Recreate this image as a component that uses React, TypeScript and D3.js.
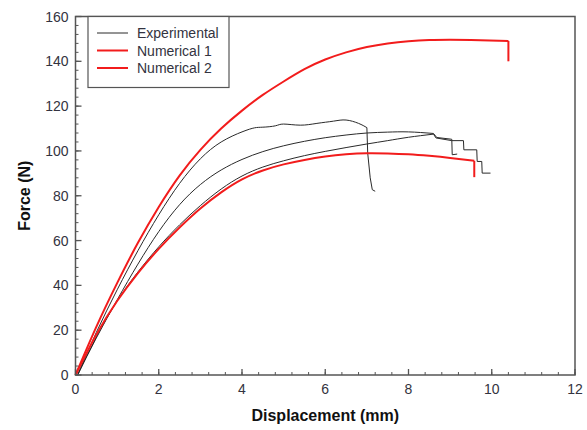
import React from "react";
import * as d3 from "d3";

type Pt = [number, number];

// axis ticks
const xTicks = [0, 2, 4, 6, 8, 10, 12];
const yTicks = [0, 20, 40, 60, 80, 100, 120, 140, 160];
const xMinor = d3.range(0, 12.001, 0.4);
const yMinor = d3.range(0, 160.001, 4);

// force-displacement curves (mm, N)
const numerical1: Pt[] = [
  [0, 0], [0.5, 21.5], [1, 41], [1.5, 59], [2, 75], [2.5, 89], [3, 100.5],
  [3.5, 110], [4, 118], [4.5, 125], [5, 131], [5.5, 136.5], [6, 140.8],
  [6.5, 144], [7, 146.4], [7.5, 148], [8, 149], [8.5, 149.5], [9, 149.6],
  [9.5, 149.5], [10.4, 149.1],
];
const numerical1Drop: Pt[] = [[10.4, 140]];

const numerical2: Pt[] = [
  [0, 0], [0.5, 18], [1, 33], [1.5, 45.5], [2, 56.3], [2.5, 65.8], [3, 74.3],
  [3.5, 81.5], [4, 87.3], [4.5, 91.3], [5, 94], [5.5, 96], [6, 97.5],
  [6.5, 98.5], [7, 99], [7.5, 98.9], [8, 98.5], [8.5, 97.8], [9, 96.9], [9.58, 95.6],
];
const numerical2Drop: Pt[] = [[9.58, 88.3]];

const expA: Pt[] = [
  [0.05, 0], [0.5, 19], [1, 38], [1.5, 55.5], [2, 71.5], [2.5, 85.5], [3, 96.5],
  [3.5, 104], [4, 108.5], [4.3, 110.3], [4.5, 110.6], [4.8, 111.2], [5, 112],
  [5.4, 111.5], [5.8, 112.3], [6.2, 113.3], [6.5, 113.8], [6.8, 112.3], [7, 110.4],
];
const expADrop: Pt[] = [[7.02, 99], [7.08, 88], [7.13, 82.7], [7.2, 82]];

const expB: Pt[] = [
  [0.05, 0], [0.5, 16.5], [1, 33.5], [1.5, 49.5], [2, 64], [2.5, 76], [3, 85],
  [3.5, 91.5], [4, 96.2], [4.5, 99.7], [5, 102.3], [5.5, 104.3], [6, 105.9],
  [6.5, 107.1], [7, 108], [7.5, 108.4], [8, 108.5], [8.6, 107.8],
];
const expBDrop: Pt[] = [[8.68, 106], [9.0, 105.3], [9.04, 105.2], [9.05, 98.3], [9.17, 98.6]];

const expC: Pt[] = [
  [0.05, 0], [0.5, 17], [1, 33], [1.5, 46], [2, 57.2], [2.5, 67], [3, 75.6],
  [3.5, 83], [4, 88.8], [4.5, 92.8], [5, 95.6], [5.5, 97.9], [6, 99.8],
  [6.5, 101.5], [7, 103.1], [7.5, 104.6], [8, 106.1], [8.6, 107.5],
];
const expCDrop: Pt[] = [
  [8.66, 105.8], [9.04, 104.6], [9.32, 104.6], [9.33, 100.5], [9.64, 100.5],
  [9.65, 95.3], [9.76, 95.3], [9.77, 90.1], [9.97, 90.1],
];

const legendLabels = ["Experimental", "Numerical 1", "Numerical 2"];

const RED = "#f21c1c";
const BLACK = "#2a2a2a";
const AXIS = "#555";
const TEXT = "#333340";
const FONT = "Arial, 'Liberation Sans', sans-serif";

const series = [
  { pts: expA, drop: expADrop, color: BLACK, width: 1 },
  { pts: expB, drop: expBDrop, color: BLACK, width: 1 },
  { pts: expC, drop: expCDrop, color: BLACK, width: 1 },
  { pts: numerical1, drop: numerical1Drop, color: RED, width: 2 },
  { pts: numerical2, drop: numerical2Drop, color: RED, width: 2 },
];

export default function App() {
  const W = 587, H = 430;
  const x = d3.scaleLinear().domain([0, 12]).range([75.5, 575]);
  const y = d3.scaleLinear().domain([0, 160]).range([375, 16.5]);

  const smooth = d3.line<Pt>().x(d => x(d[0])).y(d => y(d[1])).curve(d3.curveNatural);
  const straight = d3.line<Pt>().x(d => x(d[0])).y(d => y(d[1]));

  const [x0, x1] = x.range();
  const [y0, y1] = y.range();

  return (
    <div style={{ position: "absolute", left: 0, top: 0 }}>
      <svg width={W} height={H} style={{ display: "block", background: "#fff" }}>
        {/* curves */}
        <g fill="none" strokeLinejoin="round">
          {series.map((s, i) => (
            <g key={i} stroke={s.color} strokeWidth={s.width}>
              <path d={smooth(s.pts) || ""} />
              <path d={straight([s.pts[s.pts.length - 1], ...s.drop]) || ""} />
            </g>
          ))}
        </g>

        {/* frame */}
        <rect x={x0} y={y1} width={x1 - x0} height={y0 - y1} fill="none" stroke={AXIS} strokeWidth={1.5} />

        {/* ticks, pointing inward */}
        <g stroke={AXIS} strokeWidth={1}>
          {xMinor.map((v, i) => (
            <line key={"xm" + i} x1={x(v)} x2={x(v)} y1={y0} y2={y0 - 3} />
          ))}
          {yMinor.map((v, i) => (
            <line key={"ym" + i} x1={x0} x2={x0 + 3} y1={y(v)} y2={y(v)} />
          ))}
          {xTicks.map(v => (
            <line key={"xM" + v} x1={x(v)} x2={x(v)} y1={y0} y2={y0 - 6} strokeWidth={1.3} />
          ))}
          {yTicks.map(v => (
            <line key={"yM" + v} x1={x0} x2={x0 + 6} y1={y(v)} y2={y(v)} strokeWidth={1.3} />
          ))}
        </g>

        {/* tick labels */}
        <g fontFamily={FONT} fontSize={14} fill={TEXT}>
          {xTicks.map(v => (
            <text key={"xl" + v} x={x(v)} y={y0 + 19} textAnchor="middle">{v}</text>
          ))}
          {yTicks.map(v => (
            <text key={"yl" + v} x={x0 - 7} y={y(v) + 5} textAnchor="end">{v}</text>
          ))}
        </g>

        {/* axis titles */}
        <text x={(x0 + x1) / 2} y={421} textAnchor="middle" fontFamily={FONT} fontSize={16}
          fontWeight="bold" fill="#111">Displacement (mm)</text>
        <text transform={`translate(30,${(y0 + y1) / 2}) rotate(-90)`} textAnchor="middle"
          fontFamily={FONT} fontSize={16} fontWeight="bold" fill="#111">Force (N)</text>

        {/* legend */}
        <g>
          <rect x={88} y={y1} width={141} height={71} fill="#fff" stroke={AXIS} strokeWidth={1.2} />
          {legendLabels.map((label, i) => {
            const ly = 33 + i * 17.5;
            return (
              <g key={label}>
                <line x1={97} x2={128} y1={ly} y2={ly} stroke={i === 0 ? BLACK : RED} strokeWidth={i === 0 ? 1 : 2} />
                <text x={137} y={ly + 5} fontFamily={FONT} fontSize={14} fill={TEXT}>{label}</text>
              </g>
            );
          })}
        </g>
      </svg>
    </div>
  );
}
